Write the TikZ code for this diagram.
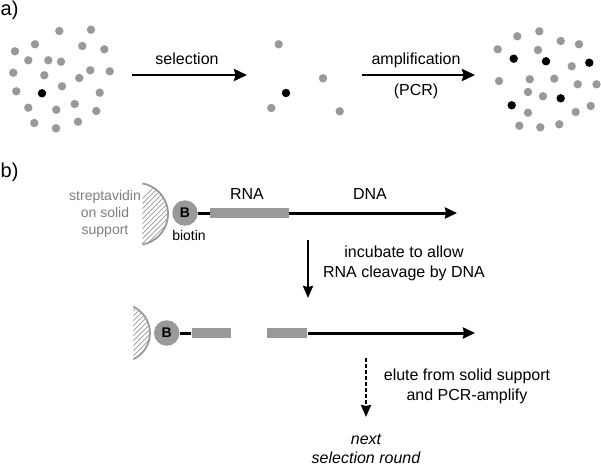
\documentclass[tikz,border=0pt]{standalone}
\usepackage{fontspec}
\setmainfont{Liberation Sans}
\usetikzlibrary{arrows.meta}
\definecolor{dotgray}{RGB}{153,153,153}
\definecolor{txtgray}{RGB}{125,125,125}
\begin{document}
\begin{tikzpicture}[x=1pt,y=-1pt,
  lbl/.style={font=\fontsize{16}{19}\selectfont, inner sep=0pt},
  lbltwo/.style={font=\fontsize{16}{20}\selectfont, inner sep=0pt, align=center},
  itlbl/.style={font=\fontsize{16}{19}\selectfont\itshape, inner sep=0pt, align=center},
  grylbl/.style={font=\fontsize{14}{16.7}\selectfont, text=txtgray, inner sep=0pt, align=center},
  bio/.style={font=\fontsize{14}{16.7}\selectfont, inner sep=0pt},
  panel/.style={font=\fontsize{20}{24}\selectfont, inner sep=0pt},
  gdot/.style={fill=dotgray},
  kdot/.style={fill=black},
  bigarrow/.style={line width=2.8pt, -{Stealth[length=13pt,width=12pt,inset=1.5pt]}},
  strandarrow/.style={line width=3pt, -{Stealth[length=12pt,width=11pt,inset=1pt]}},
  stepdown/.style={line width=2.4pt, -{Stealth[length=12pt,width=10pt,inset=1pt]}},
  dasharrow/.style={line width=2.4pt, dash pattern=on 4pt off 2pt, -{Stealth[length=12pt,width=10pt,inset=1pt]}},
  strand/.style={line width=3pt},
  bcirc/.style={circle, fill=dotgray, minimum size=25.5pt, inner sep=0pt, font=\fontsize{14}{16}\selectfont\bfseries},
  rbox/.style={rectangle, fill=dotgray, inner sep=0pt, minimum height=10.6pt},
  support/.style={draw=dotgray, line width=1.8pt},
  hatch/.style={draw=dotgray, line width=0.7pt}
]
\useasboundingbox (0,0) rectangle (601,468);

% ---------- panel a ----------
\node[panel, anchor=base west] (pa) at (0.5,16) {a)};

\foreach \p in {(59.3,31),(91,29.7),(35,44.3),(82.3,46),(15,51.3),(104.3,49.3),(28.3,60.3),(48.3,60.3),(61,61.7),(13.3,72.7),(44.3,75.3),(90.3,70.3),(109.7,71.3),(79.3,78),(62,86.3),(16.3,91.3),(99.7,92.7),(28.3,107.7),(56.3,109.7),(74.7,104),(96.3,111),(34.3,123),(56,128.3),(78,121.7)}
  \fill[gdot] \p circle (4.2);
\fill[kdot] (42,93.3) circle (4.2);

\foreach \p in {(278.7,44.3),(323,78.3),(271.3,108),(339.7,111.3)}
  \fill[gdot] \p circle (4.2);
\fill[kdot] (286,93) circle (4.2);

\foreach \p in {(517.3,36.3),(539.3,31.3),(560.7,41),(579,44.3),(497.7,49.3),(538,50),(571.7,66.3),(499,81),(529.7,79.3),(554.3,78.7),(577.7,84.3),(596.5,84.3),(528,92),(543,96.3),(590.7,106),(528,112.7),(575.7,112),(519.3,125.7),(540.3,127.3),(559.3,124.3)}
  \fill[gdot] \p circle (4.2);
\foreach \p in {(513.7,58.7),(546,61.3),(589.3,62.7),(560.7,98.3),(511.7,105.3)}
  \fill[kdot] \p circle (4.2);

\coordinate (sel1) at (132,75);
\coordinate (sel2) at (247,75);
\coordinate (amp1) at (362,75);
\coordinate (amp2) at (475,75);
\draw[bigarrow] (sel1) -- (sel2);
\draw[bigarrow] (amp1) -- (amp2);
\node[lbl, anchor=base] (tsel) at (187,65) {selection};
\node[lbl, anchor=base] (tamp) at (416,65) {amplification};
\node[lbl, anchor=base] (tpcr) at (416,95.5) {(PCR)};

% ---------- panel b ----------
\node[panel, anchor=base west] (pb) at (0.5,177) {b)};

% first construct
\coordinate (sc1) at (137,214);
\begin{scope}
  \clip (sc1) ++(-80:31) arc[start angle=-80, end angle=80, radius=31] -- cycle;
  \foreach \i in {-10,-5,...,45}
    \draw[hatch] (sc1) ++({\i-30},30) -- ++(60,-60);
\end{scope}
\draw[support] (sc1) ++(-80:31) arc[start angle=-80, end angle=80, radius=31];
\node[grylbl] (strep) at (105,214) {streptavidin\\on solid\\support};

\node[bcirc] (b1) at (185,213) {B};
\node[bio, anchor=base] (tbio) at (189,240) {biotin};
\node[rbox, minimum width=79pt] (rna1) at (249.5,213) {};
\coordinate (tip1) at (457,213);
\draw[strand] (b1) -- (rna1);
\draw[strandarrow] (rna1.east) -- (tip1);
\node[lbl, anchor=base] (trna) at (247,199) {RNA};
\node[lbl, anchor=base] (tdna) at (370,199) {DNA};

% incubate arrow
\coordinate (inc1) at (308,240);
\coordinate (inc2) at (308,298);
\draw[stepdown] (inc1) -- (inc2);
\node[lbltwo] (tinc) at (404,263.5) {incubate to allow\\RNA cleavage by DNA};

% second construct
\coordinate (sc2) at (121,333);
\begin{scope}
  \clip (sc2) ++(-65:29) arc[start angle=-65, end angle=65, radius=29] -- cycle;
  \foreach \i in {-10,-5,...,45}
    \draw[hatch] (sc2) ++({\i-30},30) -- ++(60,-60);
\end{scope}
\draw[support] (sc2) ++(-65:29) arc[start angle=-65, end angle=65, radius=29];

\node[bcirc] (b2) at (166.7,333) {B};
\node[rbox, minimum width=39.3pt] (fr1) at (211.3,333) {};
\node[rbox, minimum width=40pt] (fr2) at (287.3,333) {};
\coordinate (tip2) at (475,333);
\draw[strand] (b2) -- (fr1);
\draw[strandarrow] (fr2.east) -- (tip2);

% elute arrow
\coordinate (el1) at (366,358);
\coordinate (el2) at (366,417);
\draw[dasharrow] (el1) -- (el2);
\node[lbltwo] (telu) at (467,386) {elute from solid support\\and PCR-amplify};
\node[itlbl] (tnext) at (366,449) {next\\selection round};
\end{tikzpicture}
\end{document}
